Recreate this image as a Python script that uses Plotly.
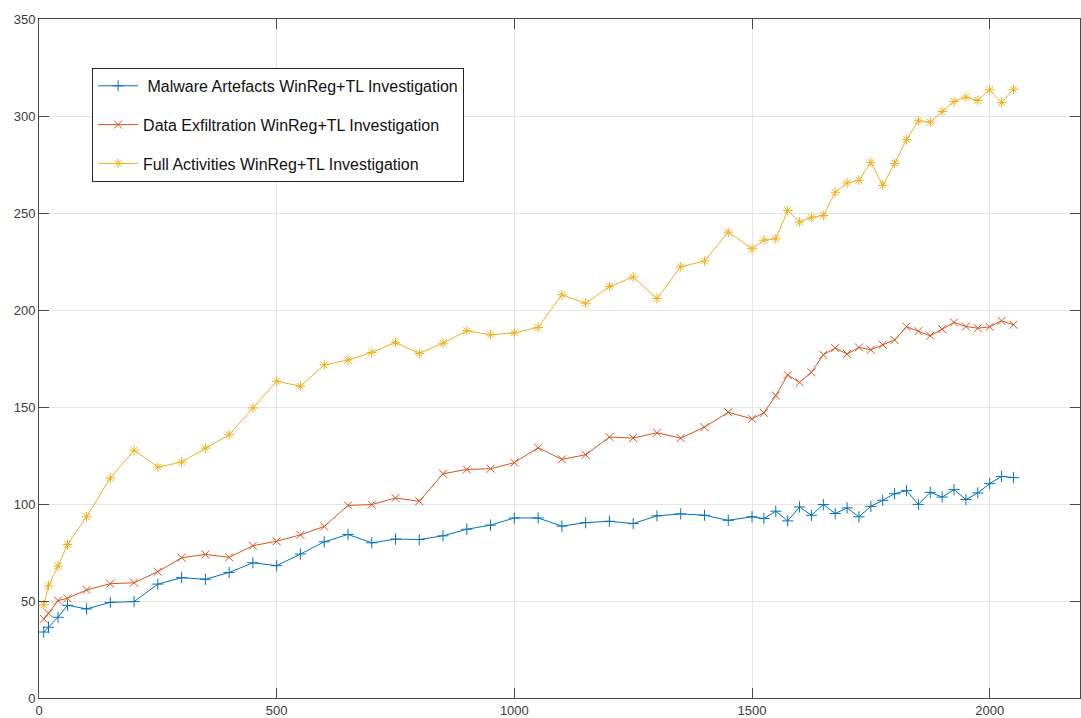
import plotly.graph_objects as go

# Sample positions (x) shared by all three series
x_vals = [10, 20, 40, 60, 100, 150, 200, 250, 300, 350, 400, 450, 500,
          550, 600, 650, 700, 750, 800, 850, 900, 950, 1000, 1050, 1100,
          1150, 1200, 1250, 1300, 1350, 1400, 1450, 1500, 1525, 1550, 1575,
          1600, 1625, 1650, 1675, 1700, 1725, 1750, 1775, 1800, 1825, 1850,
          1875, 1900, 1925, 1950, 1975, 2000, 2025, 2050]

malware = [34.0, 36.5, 41.6, 47.8, 45.9, 49.3, 49.7, 58.7, 62.0, 61.2, 64.7,
           69.7, 68.2, 74.2, 80.5, 84.3, 80.0, 81.9, 81.7, 83.6, 87.0, 89.1,
           92.8, 92.8, 88.6, 90.4, 91.1, 89.9, 93.9, 94.9, 94.2, 91.6, 93.4,
           92.5, 96.3, 91.3, 98.5, 94.2, 99.7, 95.1, 98.0, 93.4, 98.8, 101.9,
           105.3, 106.9, 99.8, 106.0, 103.6, 107.4, 102.3, 105.7, 110.5,
           114.2, 113.6]

exfiltration = [40.8, 43.7, 50.2, 51.4, 55.7, 58.9, 59.4, 65.1, 72.3, 74.0,
                72.5, 78.5, 80.8, 84.1, 88.4, 99.3, 99.7, 103.1, 101.4, 115.6,
                117.8, 118.2, 121.3, 129.0, 123.0, 125.4, 134.5, 134.0, 136.7,
                134.0, 139.6, 147.3, 143.9, 147.0, 155.9, 166.5, 162.7, 167.9,
                176.9, 180.4, 177.3, 180.7, 179.5, 182.1, 184.6, 191.4, 189.1,
                186.7, 190.1, 193.6, 191.5, 190.6, 191.3, 194.4, 192.4]

full_activities = [48.0, 57.8, 68.0, 79.1, 93.4, 113.4, 127.7, 119.0, 121.6,
                   128.8, 135.7, 149.5, 163.3, 160.7, 171.7, 174.2, 178.1,
                   183.3, 177.6, 182.9, 189.3, 187.2, 188.2, 191.0, 207.8,
                   203.5, 212.1, 217.0, 205.9, 222.3, 225.2, 240.1, 231.6,
                   236.0, 236.7, 251.3, 245.3, 247.8, 248.7, 260.7, 265.5,
                   266.9, 276.1, 264.3, 275.6, 287.8, 297.5, 296.8, 302.3,
                   307.5, 309.7, 308.0, 313.5, 306.9, 313.8]

series_names = [" Malware Artefacts WinReg+TL Investigation",
                "Data Exfiltration WinReg+TL Investigation",
                "Full Activities WinReg+TL Investigation"]
series_data = [malware, exfiltration, full_activities]
series_colors = ["#0072BD", "#D95319", "#EDB120"]
series_symbols = ["cross-thin-open", "x-thin-open", "asterisk-open"]

x_ticks = [0, 500, 1000, 1500, 2000]
y_ticks = [0, 50, 100, 150, 200, 250, 300, 350]

fig = go.Figure()
for i, (name, ys, col, sym) in enumerate(zip(series_names, series_data,
                                             series_colors, series_symbols)):
    fig.add_trace(go.Scatter(
        x=x_vals, y=ys, name=name, mode="lines+markers",
        legendgroup=f"g{i}",
        line=dict(color=col, width=1),
        marker=dict(symbol=sym, size=8, color=col,
                    line=dict(color=col, width=1)),
    ))

axis_common = dict(
    showline=True, linecolor="#4a4a4a", linewidth=1, mirror="ticks",
    ticks="inside", ticklen=10, tickcolor="#4a4a4a", tickwidth=1,
    showgrid=True, gridcolor="#e6e6e6", gridwidth=1, zeroline=False,
    tickfont=dict(family="Liberation Sans, Arial, sans-serif", size=13,
                  color="#3a3a3a"),
)

fig.update_layout(
    width=1081, height=718,
    margin=dict(l=39, r=0, t=19, b=18),
    paper_bgcolor="white", plot_bgcolor="white",
    xaxis=dict(range=[0, 2190], tickvals=x_ticks, **axis_common),
    yaxis=dict(range=[0, 350], tickvals=y_ticks, **axis_common),
    legend=dict(
        x=0.051, y=0.928, xanchor="left", yanchor="top",
        bgcolor="white", bordercolor="#262626", borderwidth=1,
        font=dict(family="Liberation Sans, Arial, sans-serif", size=16,
                  color="#111111"),
        traceorder="grouped", tracegroupgap=15, itemwidth=40,
    ),
    showlegend=True,
)

fig.write_html("out.html")
